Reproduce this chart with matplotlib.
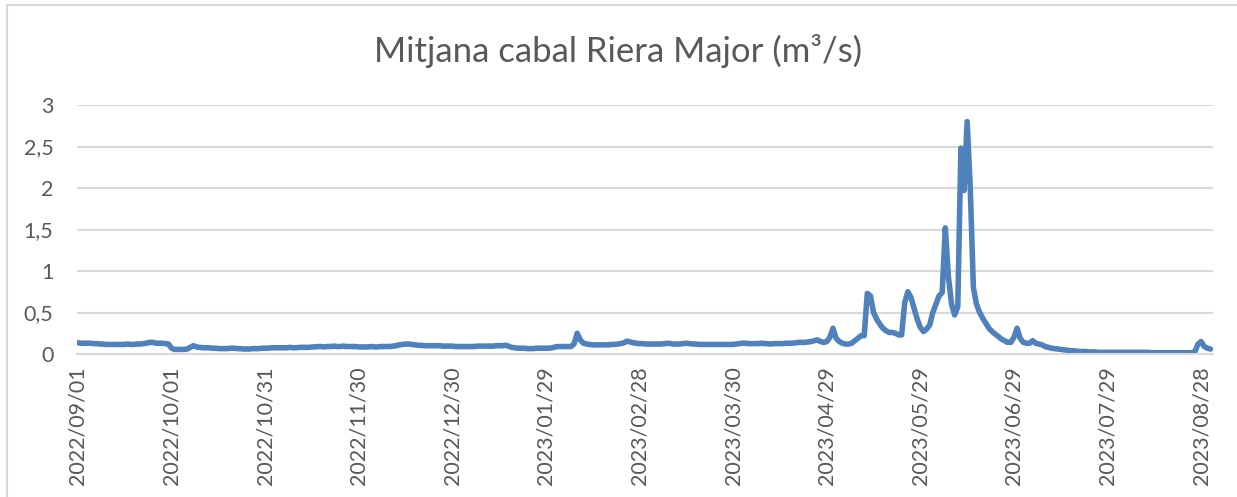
import matplotlib.pyplot as plt
from matplotlib.patches import Rectangle
import pandas as pd

# dies (eix de categories, falta un dia de juny)
dates = pd.date_range('2022-09-01', '2023-08-31')
dates = dates[dates != pd.Timestamp('2023-06-10')]
labels = [d.strftime('%Y/%m/%d') for d in dates]

# cabal mitja diari (m3/s), llegit del grafic
cabal = [
    0.135, 0.13, 0.13, 0.13, 0.13, 0.125, 0.125, 0.12, 0.12, 0.115,
    0.115, 0.115, 0.115, 0.115, 0.115, 0.115, 0.12, 0.115, 0.115, 0.12,
    0.12, 0.125, 0.13, 0.14, 0.14, 0.13, 0.13, 0.13, 0.125, 0.12,
    0.07, 0.055, 0.055, 0.055, 0.055, 0.06, 0.08, 0.1, 0.085, 0.08,
    0.075, 0.075, 0.075, 0.07, 0.07, 0.065, 0.065, 0.065, 0.065, 0.07,
    0.07, 0.065, 0.065, 0.06, 0.06, 0.06, 0.065, 0.065, 0.065, 0.07,
    0.07, 0.07, 0.075, 0.075, 0.075, 0.075, 0.075, 0.075, 0.08, 0.075,
    0.075, 0.08, 0.08, 0.08, 0.08, 0.085, 0.085, 0.09, 0.09, 0.085,
    0.09, 0.09, 0.095, 0.09, 0.09, 0.095, 0.09, 0.09, 0.09, 0.09,
    0.085, 0.085, 0.085, 0.085, 0.09, 0.085, 0.085, 0.09, 0.09, 0.09,
    0.09, 0.095, 0.1, 0.11, 0.115, 0.12, 0.12, 0.115, 0.11, 0.105,
    0.105, 0.1, 0.1, 0.1, 0.1, 0.1, 0.1, 0.095, 0.095, 0.095,
    0.095, 0.09, 0.09, 0.09, 0.09, 0.09, 0.09, 0.09, 0.095, 0.095,
    0.095, 0.095, 0.095, 0.095, 0.1, 0.1, 0.1, 0.105, 0.095, 0.08,
    0.075, 0.07, 0.07, 0.07, 0.065, 0.065, 0.065, 0.07, 0.07, 0.07,
    0.07, 0.07, 0.075, 0.085, 0.09, 0.09, 0.09, 0.09, 0.09, 0.12,
    0.25, 0.17, 0.13, 0.12, 0.115, 0.11, 0.11, 0.11, 0.11, 0.11,
    0.11, 0.115, 0.115, 0.12, 0.125, 0.135, 0.155, 0.145, 0.135, 0.13,
    0.125, 0.125, 0.12, 0.12, 0.12, 0.12, 0.12, 0.12, 0.125, 0.13,
    0.125, 0.12, 0.12, 0.12, 0.125, 0.13, 0.125, 0.12, 0.12, 0.115,
    0.115, 0.115, 0.115, 0.115, 0.115, 0.115, 0.115, 0.115, 0.115, 0.115,
    0.115, 0.12, 0.125, 0.13, 0.13, 0.125, 0.125, 0.125, 0.125, 0.13,
    0.125, 0.125, 0.12, 0.125, 0.125, 0.125, 0.125, 0.13, 0.13, 0.13,
    0.135, 0.14, 0.14, 0.14, 0.145, 0.15, 0.16, 0.17, 0.15, 0.14,
    0.15, 0.2, 0.31, 0.19, 0.15, 0.13, 0.12, 0.12, 0.13, 0.16,
    0.19, 0.22, 0.22, 0.73, 0.7, 0.5, 0.42, 0.36, 0.31, 0.28,
    0.26, 0.26, 0.25, 0.23, 0.23, 0.62, 0.75, 0.68, 0.55, 0.42,
    0.32, 0.27, 0.3, 0.35, 0.5, 0.6, 0.7, 0.74, 1.52, 0.93,
    0.6, 0.47, 0.57, 2.48, 1.97, 2.8, 2.0, 0.8, 0.6, 0.5,
    0.43, 0.37, 0.31, 0.27, 0.24, 0.21, 0.18, 0.16, 0.14, 0.14,
    0.2, 0.31, 0.19, 0.14, 0.13, 0.13, 0.16, 0.13, 0.12, 0.11,
    0.09, 0.08, 0.07, 0.065, 0.06, 0.055, 0.05, 0.045, 0.04, 0.04,
    0.035, 0.03, 0.03, 0.03, 0.025, 0.025, 0.025, 0.02, 0.02, 0.02,
    0.02, 0.02, 0.02, 0.02, 0.02, 0.02, 0.02, 0.02, 0.02, 0.02,
    0.02, 0.02, 0.02, 0.02, 0.015, 0.015, 0.015, 0.015, 0.015, 0.015,
    0.015, 0.015, 0.015, 0.015, 0.015, 0.015, 0.015, 0.015, 0.03, 0.12,
    0.15, 0.09, 0.07, 0.06,
]

yticks = [0, 0.5, 1, 1.5, 2, 2.5, 3]
ylabels = ['0', '0,5', '1', '1,5', '2', '2,5', '3']

plt.rcParams['font.family'] = ['Lato', 'DejaVu Sans']
W, H = 1237, 497
fig = plt.figure(figsize=(W / 100, H / 100), dpi=100)
ax = fig.add_axes([77 / W, 143 / H, 1136 / W, 249 / H])

x = list(range(len(cabal)))
ax.plot(x, cabal, color='#4F81BD', linewidth=4.0,
        solid_joinstyle='round', solid_capstyle='round')

ax.set_xlim(-0.3, 363.8)
ax.set_ylim(0, 3)
ax.set_yticks(yticks)
ax.set_yticklabels(ylabels)
ax.set_xticks(x[::30])
ax.set_xticklabels(labels[::30], rotation=90)

ax.grid(axis='y', color='#D9D9D9', linewidth=1.5)
ax.set_axisbelow(True)
for s in ['top', 'right', 'left']:
    ax.spines[s].set_visible(False)
ax.spines['bottom'].set_color('#D9D9D9')
ax.spines['bottom'].set_linewidth(1.5)
ax.tick_params(length=0, colors='#595959', labelsize=15.5)
ax.tick_params(axis='y', pad=17)
ax.tick_params(axis='x', pad=9)

fig.text(0.5, 1 - 51 / H, 'Mitjana cabal Riera Major (m³/s)', ha='center', va='center',
         fontsize=25, color='#595959')

# vora del grafic
fig.patches.append(Rectangle((7 / W, -0.1), 1.2, (H - 5) / H + 0.1, transform=fig.transFigure,
                             fill=False, edgecolor='#D9D9D9', linewidth=1.5))

fig.savefig('out.png', dpi=100)
